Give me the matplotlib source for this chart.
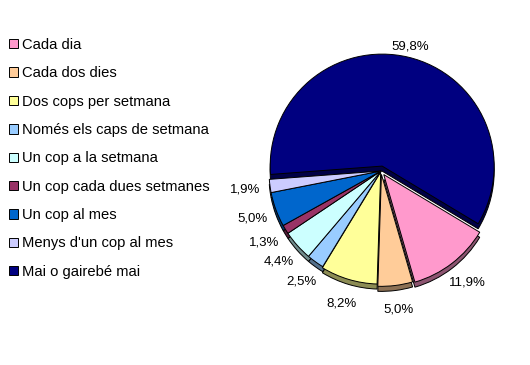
import numpy as np
import matplotlib
matplotlib.use("Agg")
import matplotlib.pyplot as plt
import matplotlib.colors as mcolors

plt.rcParams['font.family'] = ['Liberation Sans', 'DejaVu Sans']

# Freqüència
categories = ["Cada dia", "Cada dos dies", "Dos cops per setmana",
              "Només els caps de setmana", "Un cop a la setmana",
              "Un cop cada dues setmanes", "Un cop al mes",
              "Menys d'un cop al mes", "Mai o gairebé mai"]
percent = [11.9, 5.0, 8.2, 2.5, 4.4, 1.3, 5.0, 1.9, 59.8]
colors = ["#FF99CC", "#FFCC99", "#FFFF99", "#99CCFF", "#CCFFFF",
          "#993366", "#0066CC", "#CCCCFF", "#000080"]
explode = [0.04, 0.03, 0.01, 0.0, 0.0, 0.0, 0.0, 0.0, 0.045]

fig = plt.figure(figsize=(5.30, 3.65), dpi=100)
ax = fig.add_axes([213 / 530, 26 / 365, 336 / 530, 336 / 365])

# side wall (depth) drawn first, shifted down
dark = [tuple(np.array(mcolors.to_rgb(c)) * 0.55) for c in colors]
ax.pie(percent, colors=dark, explode=explode, startangle=-31,
       counterclock=False, radius=1.0, center=(0, -0.045),
       wedgeprops=dict(edgecolor="black", linewidth=0.7))

wedges, _, autotexts = ax.pie(
    percent, colors=colors, explode=explode, startangle=-31,
    counterclock=False, radius=1.0,
    autopct=lambda p: f"{p:.1f}%".replace(".", ","), pctdistance=1.22,
    wedgeprops=dict(edgecolor="black", linewidth=0.7),
    textprops=dict(fontsize=9.5, color="black"))

# the big slice's label sits closer to the rim
x, y = autotexts[-1].get_position()
autotexts[-1].set_position((x * 1.1 / 1.22, y * 1.1 / 1.22))

ax.set_xlim(-1.5, 1.5)
ax.set_ylim(-1.5, 1.5)
ax.axis("off")

fig.legend(wedges, categories, loc="upper left",
           bbox_to_anchor=(9 / 530, 1 - 38 / 365), frameon=False,
           fontsize=10.6, handlelength=0.6, handleheight=0.6,
           handletextpad=0.3, labelspacing=0.975, borderpad=0,
           borderaxespad=0)

fig.savefig("out.png", dpi=100, facecolor="white")
